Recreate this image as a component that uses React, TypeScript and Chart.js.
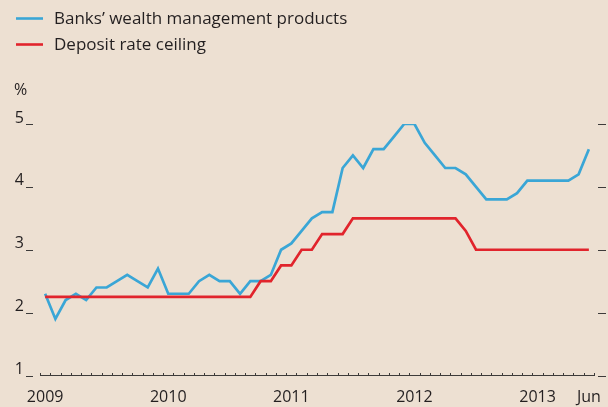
import React, { useEffect, useRef } from "react";
import { Chart, registerables } from "chart.js";

Chart.register(...registerables);

// ---- Data ----
const categories = [
  "2009-01", "2009-02", "2009-03", "2009-04", "2009-05", "2009-06", "2009-07", "2009-08", "2009-09", "2009-10", "2009-11", "2009-12",
  "2010-01", "2010-02", "2010-03", "2010-04", "2010-05", "2010-06", "2010-07", "2010-08", "2010-09", "2010-10", "2010-11", "2010-12",
  "2011-01", "2011-02", "2011-03", "2011-04", "2011-05", "2011-06", "2011-07", "2011-08", "2011-09", "2011-10", "2011-11", "2011-12",
  "2012-01", "2012-02", "2012-03", "2012-04", "2012-05", "2012-06", "2012-07", "2012-08", "2012-09", "2012-10", "2012-11", "2012-12",
  "2013-01", "2013-02", "2013-03", "2013-04", "2013-05", "2013-06",
];

const wealthProducts = [
  2.3, 1.9, 2.2, 2.3, 2.2, 2.4, 2.4, 2.5, 2.6, 2.5, 2.4, 2.7,
  2.3, 2.3, 2.3, 2.5, 2.6, 2.5, 2.5, 2.3, 2.5, 2.5, 2.6, 3.0,
  3.1, 3.3, 3.5, 3.6, 3.6, 4.3, 4.5, 4.3, 4.6, 4.6, 4.8, 5.0,
  5.0, 4.7, 4.5, 4.3, 4.3, 4.2, 4.0, 3.8, 3.8, 3.8, 3.9, 4.1,
  4.1, 4.1, 4.1, 4.1, 4.2, 4.6,
];

const depositCeiling = [
  2.25, 2.25, 2.25, 2.25, 2.25, 2.25, 2.25, 2.25, 2.25, 2.25, 2.25, 2.25,
  2.25, 2.25, 2.25, 2.25, 2.25, 2.25, 2.25, 2.25, 2.25, 2.5, 2.5, 2.75,
  2.75, 3.0, 3.0, 3.25, 3.25, 3.25, 3.5, 3.5, 3.5, 3.5, 3.5, 3.5,
  3.5, 3.5, 3.5, 3.5, 3.5, 3.3, 3.0, 3.0, 3.0, 3.0, 3.0, 3.0,
  3.0, 3.0, 3.0, 3.0, 3.0, 3.0,
];

const xTickLabels: Record<number, string> = {
  0: "2009",
  12: "2010",
  24: "2011",
  36: "2012",
  48: "2013",
  53: "Jun",
};

const seriesNames = ["Banks\u2019 wealth management products", "Deposit rate ceiling"];
const seriesColors = ["#3aa6d6", "#e1242c"];
const yUnit = "%";

const BG = "#ede0d2";
const TEXT = "#231f20";
const MARK = "#3d3b3a";
const FONT = '"Open Sans", "DejaVu Sans", sans-serif';

const decorPlugin = {
  id: "decor",
  afterDraw(chart: any) {
    const ctx = chart.ctx as CanvasRenderingContext2D;
    const xs = chart.scales.x;
    const ys = chart.scales.y;
    const area = chart.chartArea;
    ctx.save();

    // legend
    ctx.font = `17px ${FONT}`;
    ctx.textAlign = "left";
    ctx.textBaseline = "middle";
    seriesNames.forEach((name, k) => {
      const ly = 18.5 + k * 26;
      ctx.strokeStyle = seriesColors[k];
      ctx.lineWidth = 2.6;
      ctx.beginPath();
      ctx.moveTo(16, ly);
      ctx.lineTo(43, ly);
      ctx.stroke();
      ctx.fillStyle = TEXT;
      ctx.fillText(name, 54, ly + 1);
    });

    // unit
    ctx.font = `16px ${FONT}`;
    ctx.textBaseline = "alphabetic";
    ctx.fillText(yUnit, 14, 95);

    // y marks, left and right
    ctx.strokeStyle = MARK;
    ctx.lineWidth = 1.2;
    ys.ticks.forEach((t: any) => {
      const py = Math.round(ys.getPixelForValue(t.value)) + 0.5;
      ctx.beginPath();
      ctx.moveTo(26, py);
      ctx.lineTo(33, py);
      ctx.moveTo(598, py);
      ctx.lineTo(606, py);
      ctx.stroke();
    });

    // monthly tick marks on baseline
    ctx.lineWidth = 1;
    const by = Math.round(area.bottom);
    for (let i = 0; i <= categories.length; i++) {
      const px = Math.round(xs.getPixelForValue(i - 0.5)) + 0.5;
      ctx.beginPath();
      ctx.moveTo(px, by);
      ctx.lineTo(px, by - 3);
      ctx.stroke();
    }
    ctx.restore();
  },
};

export default function App() {
  const canvasRef = useRef<HTMLCanvasElement | null>(null);

  useEffect(() => {
    document.body.style.margin = "0";
    document.body.style.background = BG;
    const canvas = canvasRef.current;
    if (!canvas) return;
    const chart = new Chart(canvas, {
      type: "line",
      data: {
        labels: categories,
        datasets: [
          {
            label: seriesNames[1],
            data: depositCeiling,
            borderColor: seriesColors[1],
            borderWidth: 2.7,
            pointRadius: 0,
            tension: 0,
            fill: false,
          },
          {
            label: seriesNames[0],
            data: wealthProducts,
            borderColor: seriesColors[0],
            borderWidth: 2.7,
            pointRadius: 0,
            tension: 0,
            fill: false,
          },
        ],
      },
      options: {
        responsive: false,
        animation: false,
        devicePixelRatio: 1,
        layout: { padding: { top: 124, right: 14, bottom: 0, left: 0 } },
        plugins: {
          legend: { display: false },
          tooltip: { enabled: false },
        },
        scales: {
          x: {
            type: "category",
            offset: true,
            grid: { display: false, drawTicks: false },
            border: { display: true, color: MARK, width: 1 },
            ticks: {
              autoSkip: false,
              maxRotation: 0,
              minRotation: 0,
              padding: 12,
              color: TEXT,
              font: { family: FONT, size: 16 },
              callback: (_v: any, i: number) => xTickLabels[i] ?? "",
            },
            afterFit: (s: any) => {
              s.height = 31.5;
              s.paddingLeft = 0;
              s.paddingRight = 0;
            },
          },
          y: {
            min: 1,
            max: 5,
            grid: { display: false, drawTicks: false },
            border: { display: false },
            ticks: {
              stepSize: 1,
              padding: 16,
              labelOffset: -6,
              color: TEXT,
              font: { family: FONT, size: 16 },
            },
            afterFit: (s: any) => {
              s.width = 40;
              s.paddingTop = 0;
              s.paddingBottom = 0;
            },
          },
        },
      },
      plugins: [decorPlugin],
    });
    return () => chart.destroy();
  }, []);

  return (
    <div style={{ position: "fixed", left: 0, top: 0, width: 608, height: 407, background: BG }}>
      <canvas ref={canvasRef} width={608} height={407} style={{ display: "block" }} />
    </div>
  );
}
